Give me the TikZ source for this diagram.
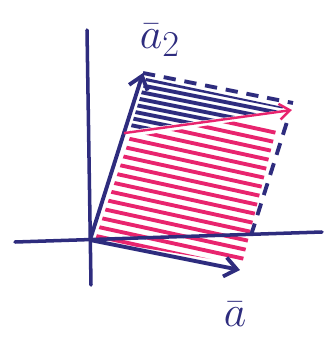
\documentclass[tikz,border=0pt]{standalone}
\usepackage{tikz}
\usepackage{xcolor}
\definecolor{inkblue}{HTML}{2E2C7E}
\definecolor{inkpink}{HTML}{E8246E}
\usetikzlibrary{arrows.meta, calc}

\begin{document}
\begin{tikzpicture}[
        x=0.02cm, y=-0.02cm,
        axis_line/.style={
            draw=inkblue, 
            line width=2pt, 
            line cap=round
        },
        vec_arrow/.style={
            -{Straight Barb[length=7pt, width=11pt]}, 
            draw=inkblue, 
            line width=2.2pt
        },
        edge_dash/.style={
            draw=inkblue, 
            line width=2.2pt, 
            dash pattern=on 7pt off 5pt
        },
        hatch_blue/.style={
            draw=inkblue, 
            line width=2.2pt
        },
        hatch_pink/.style={
            draw=inkpink, 
            line width=2.2pt
        },
        shear_arrow/.style={
            -{Straight Barb[length=6pt, width=9pt]}, 
            draw=inkpink, 
            line width=1.4pt
        },
        vec_label/.style={
            text=inkblue, 
            font=\fontsize{30}{32}\selectfont
        }
    ]
    \useasboundingbox (0,0) rectangle (328,339);

    % Points of the parallelogram
    \coordinate (origin) at (90,240);
    \coordinate (a_tip) at (240,270);
    \coordinate (a2_tip) at (143,73);
    \coordinate (corner) at (293,103);
    \coordinate (shear_start) at ($(origin)!0.64!(a2_tip)$);
    \coordinate (shear_end) at (292,110);

    % Pink hatching
    \begin{scope}
        \clip ($(origin)+(5,0)$) -- ($(shear_start)+(6,4)$) -- ($(shear_end)+(-8,4)$)
            -- ($($(corner)!0.1!(a_tip)$)+(-9,0)$) -- ($(a_tip)+(2,-6)$) -- cycle;
        \foreach \y in {90,99.5,...,260} {
            \draw[hatch_pink] (80,\y) -- (300,\y+48);
        }
    \end{scope}

    % Blue hatching
    \begin{scope}
        \clip ($(a2_tip)+(3,5)$) -- ($(corner)+(-10,4)$) -- ($(shear_end)+(-10,0)$)
            -- ($(shear_start)+(6,-3)$) -- cycle;
        \foreach \y in {66,73,...,130} {
            \draw[hatch_blue] (80,\y) -- (300,\y+44);
        }
    \end{scope}

    % Axes
    \coordinate (y_top) at (87,30);
    \coordinate (y_bottom) at (91,285);
    \coordinate (x_left) at (15,242);
    \coordinate (x_right) at (322,232);
    \draw[axis_line] (y_bottom) -- (y_top);
    \draw[axis_line] (x_left) -- (x_right);

    % Dashed edges
    \draw[edge_dash] (a2_tip) -- (corner);
    \draw[edge_dash] ($(corner)!0.12!(a_tip)$) -- ($(corner)!0.8!(a_tip)$);

    % Vectors
    \draw[vec_arrow] (origin) -- (a_tip);
    \draw[vec_arrow] (origin) -- (a2_tip);
    \draw[shear_arrow] (shear_start) -- (shear_end);

    % Labels
    \node[vec_label] (a2_label) at (160,40) {$\bar{a}_2$};
    \node[vec_label] (a_label) at (235,314) {$\bar{a}$};

    \end{tikzpicture}
\end{document}
